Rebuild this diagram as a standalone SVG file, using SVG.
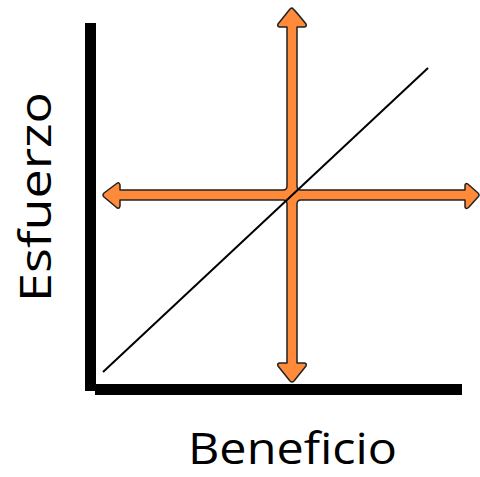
<svg xmlns="http://www.w3.org/2000/svg" width="480" height="477" viewBox="0 0 480 477">
<style>
.axis{fill:#000}
.lbl{font-family:"Open Sans","Liberation Sans",sans-serif;font-size:44px;fill:#000}
.xl{font-size:43px}
.cross{fill:#FF8A3A;stroke:#222;stroke-width:1.5;stroke-linejoin:round}
</style>
<rect width="480" height="477" fill="#fff"/>
<g id="axes">
<rect class="axis" x="85" y="23" width="11" height="368"/>
<rect class="axis" x="95" y="384" width="367" height="11"/>
</g>
<g id="cross">
<path class="cross" d="M292,8 Q294,9 306,24 Q307,27 304,27 L297,27 L297,186 Q297,190 301,190 L465,190 L465,185 Q466,182 469,185 L478,193 Q480,195 478,197 L469,207 Q466,210 465,207 L465,200 L301,200 Q297,200 297,204 L297,363 L304,363 Q307,363 306,366 L294,381 Q292,383 290,381 L278,366 Q277,363 280,363 L287,363 L287,204 Q287,200 283,200 L120,200 L120,206 Q119,210 116,207 L104,197 Q102,195 104,193 L116,184 Q119,181 120,185 L120,190 L283,190 Q287,190 287,186 L287,27 L280,27 Q277,27 278,24 L290,9 Q291,8 292,8 Z"/>
</g>
<g id="connectors">
<line x1="103" y1="372" x2="428" y2="68" stroke="#000" stroke-width="2"/>
</g>
<g id="label-x">
<text class="lbl xl" x="188" y="464" textLength="209" lengthAdjust="spacingAndGlyphs">Beneficio</text>
</g>
<g id="label-y">
<text class="lbl" transform="translate(51,302) rotate(-90)" textLength="210" lengthAdjust="spacingAndGlyphs">Esfuerzo</text>
</g>
</svg>
